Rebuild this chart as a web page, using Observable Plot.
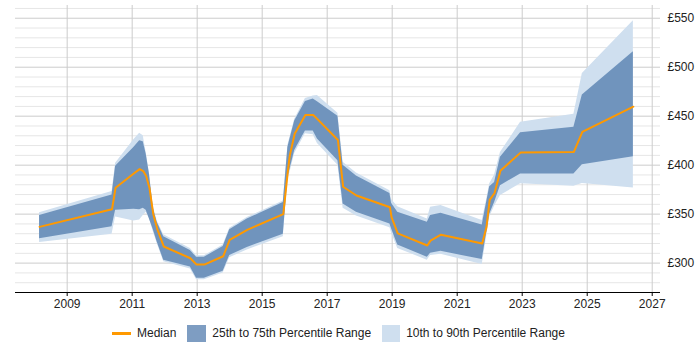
<!DOCTYPE html>
<html>
<head>
<meta charset="utf-8">
<script src="https://cdn.jsdelivr.net/npm/d3@7"></script>
<script src="https://cdn.jsdelivr.net/npm/@observablehq/plot@0.6"></script>
<style>
  html, body { margin: 0; padding: 0; background: #fff; }
  body { width: 700px; height: 350px; overflow: hidden; font-family: "Liberation Sans", Arial, sans-serif; }
  #chart svg { display: block; }
  .legend { display: flex; align-items: center; height: 26px; margin-top: 0; padding-left: 112px; font-size: 12px; color: #222; }
  .legend .sw { display: inline-block; margin-right: 6px; }
  .legend .item { display: flex; align-items: center; margin-right: 11px; }
</style>
</head>
<body>
<div id="chart"></div>
<div class="legend">
  <span class="item"><span class="sw" style="width:19px;height:3px;background:#ff9900"></span>Median</span>
  <span class="item"><span class="sw" style="width:19px;height:17px;background:#7e9dc2"></span>25th to 75th Percentile Range</span>
  <span class="item"><span class="sw" style="width:18px;height:17px;background:#cfdfef"></span>10th to 90th Percentile Range</span>
</div>
<script>
// Daily rate percentiles over time (decimal years)
const years = [2008.15, 2010.38, 2010.49, 2011.05, 2011.23, 2011.34, 2011.43, 2011.53, 2011.65, 2011.77, 2011.97,
  2012.79, 2012.98, 2013.22, 2013.80, 2014.00, 2014.54, 2015.65, 2015.79, 2015.85, 2016.00, 2016.33, 2016.57,
  2016.70, 2017.33, 2017.49, 2017.90, 2018.93, 2018.98, 2019.17, 2020.08, 2020.18, 2020.50, 2021.77, 2021.90,
  2022.00, 2022.15, 2022.33, 2022.95, 2024.59, 2024.85, 2026.42];
const p10 = [321, 329.5, 347, 343, 344, 348.5, 352, 346, 332, 320, 301.5,
  294, 283, 283, 290, 305.5, 313.5, 327, 385, 392, 412, 432, 431,
  422, 400, 356, 348, 336, 331, 315, 303, 307.7, 309, 298.5, 326,
  347, 358, 369, 381, 378.4, 381.4, 376.7];
const p25 = [325, 337, 354, 355, 354.6, 356, 354, 345, 334, 321.5, 303,
  296, 284.5, 284.5, 291.6, 307.7, 316, 329.5, 388, 395, 415, 435, 435,
  426.7, 404.6, 360.4, 352, 340, 335, 318.5, 306, 310, 312, 303.6, 329.8,
  350, 362, 379, 391, 391, 400.5, 408.7];
const p50 = [337, 355, 377, 391.5, 396, 394, 389, 377, 350, 335, 317,
  305, 298.5, 298.5, 307, 323.7, 334, 350, 394, 410, 432, 451.2, 451.2,
  447, 425.7, 378, 369, 357, 347, 330.4, 318, 323, 329, 320, 336.5,
  364.5, 371.6, 394.4, 412.8, 413.5, 434, 459.7];
const p75 = [348.5, 369.5, 399, 418, 425, 424, 411.4, 391, 356, 341.6, 327,
  313, 306, 306, 317, 334, 345, 362, 418, 426, 445, 465, 467.6,
  464.7, 450, 400, 389, 371, 361, 352, 341.6, 348.5, 351, 339, 361,
  378, 382.4, 408, 433, 438.6, 471.6, 515.8];
const p90 = [351.5, 373, 402, 426, 432.5, 430, 413, 392, 357.5, 343, 329,
  315, 307.5, 307.5, 318.5, 335.5, 346.5, 363.5, 420, 428, 447, 468, 470.5,
  471, 453, 403, 392, 374, 365, 357.5, 345, 357, 358.7, 343.4, 364,
  381, 390, 413, 443.7, 452, 493.7, 547.4];

const yearTicks = [2009, 2011, 2013, 2015, 2017, 2019, 2021, 2023, 2025, 2027];
const priceTicks = [300, 350, 400, 450, 500, 550];

const rows = years.map((x, i) => ({x, p10: p10[i], p25: p25[i], p50: p50[i], p75: p75[i], p90: p90[i]}));

const yDomain = [270, 563];
const minorTicks = d3.range(270, 561, 10).filter(v => v % 50 !== 0);

const chart = Plot.plot({
  width: 700,
  height: 320,
  marginLeft: 15,
  marginRight: 40,
  marginTop: 5,
  marginBottom: 28,
  style: {fontFamily: '"Liberation Sans", Arial, sans-serif', fontSize: "12px", color: "#222", background: "#fff"},
  x: {domain: [2007.41, 2027.255], label: null},
  y: {domain: yDomain, label: null},
  marks: [
    Plot.ruleY(minorTicks, {stroke: "#e6e6e6", strokeWidth: 1}),
    Plot.ruleY(priceTicks, {stroke: "#cccccc", strokeWidth: 1}),
    Plot.ruleX(yearTicks, {stroke: "#cccccc", strokeWidth: 1}),
    Plot.areaY(rows, {x: "x", y1: "p10", y2: "p90", fill: "#cfdfef"}),
    Plot.areaY(rows, {x: "x", y1: "p25", y2: "p75", fill: "#7094bd"}),
    Plot.lineY(rows, {x: "x", y: "p50", stroke: "#ff9900", strokeWidth: 2}),
    Plot.ruleY([yDomain[0]], {stroke: "#000", strokeWidth: 1}),
    Plot.axisX({ticks: yearTicks, tickFormat: d => String(d), tickSize: 4, tickPadding: 3, stroke: "#000"}),
    Plot.axisY({anchor: "right", ticks: priceTicks, tickFormat: d => "£" + d, tickSize: 0, tickPadding: 7})
  ]
});
document.getElementById("chart").appendChild(chart);
</script>
</body>
</html>
